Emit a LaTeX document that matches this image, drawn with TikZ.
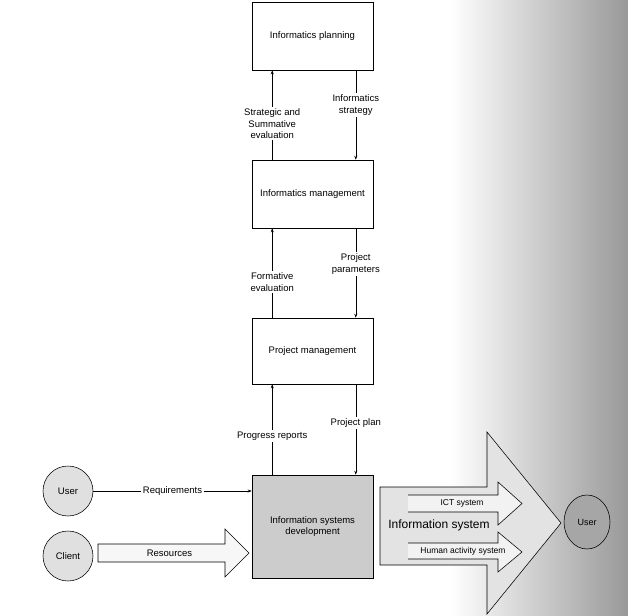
\documentclass[tikz,border=0pt]{standalone}
\usepackage{fontspec}
\setmainfont{Liberation Sans}
\usetikzlibrary{arrows.meta,shapes.geometric}

\begin{document}
\begin{tikzpicture}[
    x=1pt, y=-1pt,
    line width=0.55pt,
    font=\fontsize{9.5}{11.5}\selectfont,
    box/.style={draw, minimum width=121pt, inner sep=2pt, align=center},
    actor/.style={circle, draw, fill=black!12, minimum size=50pt, inner sep=0pt},
    flowlabel/.style={fill=white, align=center, inner sep=1.5pt},
    smalltext/.style={font=\fontsize{8.5}{10}\selectfont},
    dedge/.style={-{Stealth[length=4pt, width=3pt]}} % Directed edge style
]
    \useasboundingbox (0,0) rectangle (628,615);

    % Grey scan shading on the right
    \shade[left color=white, right color=black!40] (450,0) rectangle (628,615);

    % Management chain (top to bottom)
    \node[box, minimum height=68pt] (plan) at (312.5,36) {Informatics planning};
    \node[box, minimum height=68pt] (imgmt) at (312.5,194) {Informatics management};
    \node[box, minimum height=66pt] (pmgmt) at (312.5,351) {Project management};
    \node[box, minimum height=103pt, fill=black!20] (isd) at (312.5,526.5) {Information systems\\development};

    % Upward evaluation flows (left side)
    \draw[dedge] ([xshift=20.5pt]imgmt.north west) -- node[flowlabel, pos=0.4] {Strategic and\\Summative\\evaluation} ([xshift=20.5pt]plan.south west);
    \draw[dedge] ([xshift=20.5pt]pmgmt.north west) -- node[flowlabel, pos=0.4] {Formative\\evaluation} ([xshift=20.5pt]imgmt.south west);
    \draw[dedge] ([xshift=20.5pt]isd.north west) -- node[flowlabel, pos=0.43] {Progress reports} ([xshift=20.5pt]pmgmt.south west);

    % Downward steering flows (right side)
    \draw[dedge] ([xshift=-17.5pt]plan.south east) -- node[flowlabel, pos=0.39] {Informatics\\strategy} ([xshift=-17.5pt]imgmt.north east);
    \draw[dedge] ([xshift=-17.5pt]imgmt.south east) -- node[flowlabel, pos=0.4] {Project\\parameters} ([xshift=-17.5pt]pmgmt.north east);
    \draw[dedge] ([xshift=-17.5pt]pmgmt.south east) -- node[flowlabel, pos=0.43] {Project plan} ([xshift=-17.5pt]isd.north east);

    % User and client on the left
    \node[actor] (user) at (68,491) {User};
    \node[actor] (client) at (68,556) {Client};

    \draw[dedge] (user.east) -- node[flowlabel] {Requirements} (user.east -| isd.west);

    % Resources block arrow
    \filldraw[fill=black!3] (98,544) -- (225,544) -- (225,529) -- (249,553) -- (225,577) -- (225,562) -- (98,562) -- cycle;
    \node (res) at (169.5,553) {Resources};

    % Information system block arrow with its two parts
    \filldraw[fill=black!11] (380,487) -- (487,487) -- (487,432) -- (561,523) -- (487,614) -- (487,565) -- (380,565) -- cycle;
    \path[fill=black!5, draw] (408,495) -- (498,495) -- (498,482) -- (522,503.5) -- (498,525) -- (498,512) -- (408,512);
    \path[fill=black!5, draw] (408,543) -- (498,543) -- (498,532) -- (522,552) -- (498,572) -- (498,559) -- (408,559);
    \node[smalltext] (ict) at (462,503.5) {ICT system};
    \node[smalltext] (has) at (463,551) {Human activity system};
    \node[font=\fontsize{12}{14}\selectfont, anchor=west, inner sep=0pt] (infosys) at (388,525) {Information system};

    % End user on the right
    \node[ellipse, draw, fill=black!35, minimum width=46pt, minimum height=54pt, inner sep=0pt, font=\fontsize{9}{10}\selectfont] (enduser) at (587,522) {User};

\end{tikzpicture}
\end{document}
